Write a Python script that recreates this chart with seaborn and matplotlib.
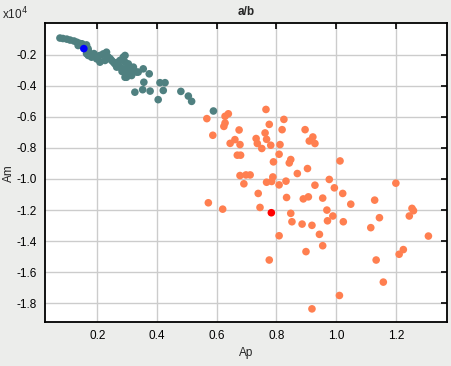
import numpy as np
import pandas as pd
import matplotlib
matplotlib.use("Agg")
import matplotlib.pyplot as plt
import seaborn as sns

# Ap values and Am values (Am in units of 1e4)
teal_ap = [0.075, 0.085, 0.098, 0.109, 0.132, 0.142, 0.149, 0.164, 0.136, 0.169,
           0.170, 0.164, 0.170, 0.181, 0.198, 0.209, 0.220, 0.231, 0.237, 0.209,
           0.226, 0.248, 0.254, 0.259, 0.270, 0.265, 0.287, 0.293, 0.293, 0.304,
           0.276, 0.287, 0.298, 0.315, 0.304, 0.293, 0.298, 0.315, 0.321, 0.332,
           0.337, 0.354, 0.374, 0.356, 0.326, 0.352, 0.377, 0.410, 0.427, 0.421,
           0.404, 0.480, 0.505, 0.516, 0.589, 0.189, 0.202, 0.243, 0.276, 0.310,
           0.283, 0.159, 0.122]
teal_am = [-0.094, -0.097, -0.101, -0.107, -0.121, -0.129, -0.131, -0.138, -0.142, -0.162,
           -0.174, -0.194, -0.206, -0.217, -0.228, -0.206, -0.196, -0.185, -0.217, -0.249,
           -0.238, -0.238, -0.249, -0.260, -0.249, -0.281, -0.217, -0.206, -0.249, -0.260,
           -0.281, -0.292, -0.292, -0.292, -0.324, -0.346, -0.346, -0.335, -0.281, -0.313,
           -0.313, -0.292, -0.324, -0.378, -0.442, -0.426, -0.435, -0.381, -0.381, -0.431,
           -0.490, -0.437, -0.467, -0.501, -0.563, -0.194, -0.213, -0.226, -0.238, -0.303,
           -0.309, -0.149, -0.113]

orange_ap = [0.567, 0.587, 0.628, 0.639, 0.628, 0.624, 0.645, 0.661, 0.675, 0.678,
             0.669, 0.680, 0.765, 0.776, 0.762, 0.732, 0.767, 0.736, 0.751, 0.781,
             0.812, 0.825, 0.819, 0.809, 0.790, 0.848, 0.843, 0.678, 0.698, 0.712,
             0.691, 0.788, 0.767, 0.784, 0.809, 0.832, 0.739, 0.745, 0.620, 0.572,
             0.834, 0.870, 0.904, 0.896, 0.910, 0.922, 0.929, 1.013, 0.929, 0.977,
             0.994, 1.022, 0.890, 0.907, 0.955, 1.049, 1.129, 0.969, 0.989, 0.971,
             1.024, 1.145, 1.200, 1.254, 1.259, 1.245, 0.848, 0.852, 0.886, 0.919,
             1.116, 0.809, 0.944, 1.309, 0.955, 0.899, 0.776, 1.211, 1.225, 1.134,
             1.158, 1.011, 0.919]
orange_am = [-0.612, -0.719, -0.597, -0.581, -0.640, -0.662, -0.771, -0.747, -0.685, -0.779,
             -0.847, -0.847, -0.553, -0.649, -0.704, -0.740, -0.745, -0.772, -0.804, -0.783,
             -0.779, -0.617, -0.683, -0.841, -0.890, -0.875, -0.897, -0.978, -0.974, -0.974,
             -1.031, -0.987, -1.021, -1.016, -1.038, -1.014, -1.093, -1.183, -1.194, -1.153,
             -1.119, -0.965, -0.933, -0.683, -0.756, -0.730, -0.772, -0.884, -1.040, -1.003,
             -1.057, -1.093, -1.128, -1.115, -1.123, -1.162, -1.136, -1.200, -1.238, -1.269,
             -1.275, -1.249, -1.027, -1.189, -1.204, -1.238, -1.221, -1.275, -1.290, -1.298,
             -1.313, -1.365, -1.356, -1.367, -1.429, -1.467, -1.521, -1.484, -1.454, -1.521,
             -1.663, -1.749, -1.835]

blue_ap = [0.155]
blue_am = [-0.162]
red_ap = [0.783]
red_am = [-1.217]

x_ticks = [0.2, 0.4, 0.6, 0.8, 1.0, 1.2]
y_ticks = [-1.8, -1.6, -1.4, -1.2, -1.0, -0.8, -0.6, -0.4, -0.2]

df = pd.DataFrame({
    "Ap": teal_ap + orange_ap + blue_ap + red_ap,
    "Am": teal_am + orange_am + blue_am + red_am,
    "grp": (["a"] * len(teal_ap) + ["b"] * len(orange_ap)
            + ["a_sel"] * len(blue_ap) + ["b_sel"] * len(red_ap)),
})
palette = {"a": "#4f8080", "b": "#ff7f50", "a_sel": "#0000ff", "b_sel": "#ff0000"}

sns.set_style("white")
plt.rcParams["font.family"] = ["Liberation Sans", "DejaVu Sans"]

fig = plt.figure(figsize=(4.51, 3.66), dpi=100, facecolor="#ecedeb")
ax = fig.add_axes([0.0998, 0.120, 0.8905, 0.816])
ax.set_facecolor("white")

sns.scatterplot(data=df, x="Ap", y="Am", hue="grp", palette=palette,
                s=30, linewidth=0, marker="o", legend=False, ax=ax, zorder=3)

ax.set_xlim(0.025, 1.370)
ax.set_ylim(-1.92, 0.0)
ax.set_xticks(x_ticks)
ax.set_xticklabels([f"{v:.1f}" for v in x_ticks])
ax.set_yticks(y_ticks)
ax.set_yticklabels([f"{v:.1f}" for v in y_ticks])
ax.grid(True, color="#cccccc", linewidth=1.0, zorder=0)
ax.set_axisbelow(True)
ax.tick_params(direction="in", length=4, width=1.2, top=True, right=True,
               labelsize=8.5, colors="black", pad=6)
for s in ax.spines.values():
    s.set_color("black")
    s.set_linewidth(1.3)

ax.set_xlabel("Ap", fontsize=8.5, labelpad=3)
ax.set_ylabel("Am", fontsize=8.5, labelpad=1)
ax.set_title("a/b", fontsize=8.5, fontweight="bold", pad=6)
fig.text(0.005, 0.94, "x10$^{4}$", fontsize=8.5, ha="left", va="bottom")

fig.savefig("out.png", dpi=100, facecolor=fig.get_facecolor())
